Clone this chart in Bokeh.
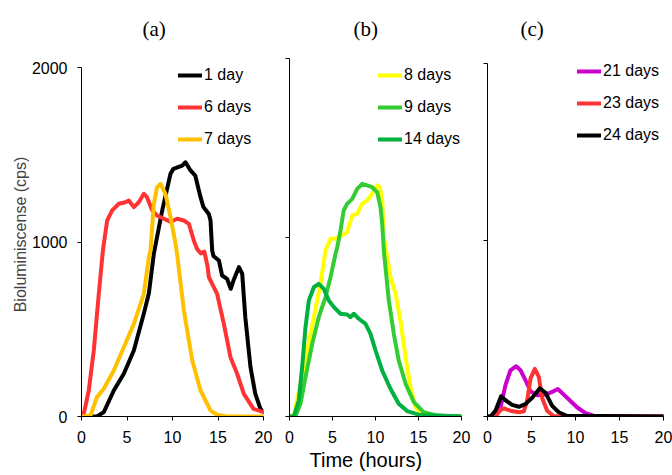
from bokeh.plotting import figure
from bokeh.models import Range1d, FixedTicker, Legend, LegendItem, Title, CustomJSTickFormatter
from bokeh.layouts import row
from bokeh.embed import file_html
from bokeh.resources import INLINE

# ---------------- data ----------------
panel_titles = ["(a)", "(b)", "(c)"]
x_ticks = [0, 5, 10, 15, 20]
y_ticks = [0, 1000, 2000]

# panel (a)
a_labels = ["1 day", "6 days", "7 days"]
a_colors = ["#000000", "#FF3333", "#FFC000"]
d1_t = [0, 1.7, 2.45, 3.55, 4.65, 5.75, 6.85, 7.4, 7.95, 8.87, 9.78, 10.1, 11.07, 11.43, 11.98, 12.5,
        13.08, 13.4, 13.99, 14.18, 14.36, 14.5, 15.1, 15.45, 16.0, 16.4, 16.7, 17.3, 17.66, 18.0,
        18.57, 19.1, 19.67, 20]
d1_v = [0, 0, 25, 149, 245, 378, 590, 705, 933, 1181, 1391, 1419, 1438, 1457, 1410, 1381,
        1257, 1200, 1161, 1123, 951, 920, 894, 808, 789, 732, 779, 856, 818, 569,
        283, 130, 44, 25]
d6_t = [0, 0.25, 0.8, 1.35, 1.9, 2.35, 2.82, 3.37, 4.1, 4.83, 5.2, 5.75, 6.3, 6.85, 7.2, 7.77, 8.3,
        9.05, 9.8, 10.5, 11.25, 11.8, 12.34, 12.7, 13.1, 13.5, 13.85, 14.0, 14.9, 15.64, 16.37, 17.1,
        17.84, 18.9, 20]
d6_v = [0, 15, 149, 378, 703, 951, 1123, 1181, 1219, 1228, 1238, 1200, 1228, 1276, 1257, 1181, 1152,
        1133, 1115, 1133, 1123, 1104, 1009, 960, 935, 945, 860, 798, 703, 531, 340, 245,
        130, 44, 25]
d7_t = [0, 1.0, 1.7, 2.45, 3.55, 4.65, 5.75, 6.85, 7.4, 7.58, 7.95, 8.3, 8.68, 9.23, 9.78, 10.33,
        10.5, 11.25, 12.17, 13.08, 14.18, 14.9, 16, 20]
d7_v = [0, 6, 111, 159, 264, 397, 531, 703, 913, 951, 1219, 1314, 1333, 1276, 1142, 990,
        933, 607, 321, 149, 34, 10, 0, 0]

# panel (b)
b_labels = ["8 days", "9 days", "14 days"]
b_colors = ["#FFFF00", "#33CC33", "#00B040"]
d8_t = [0, 0.5, 1.28, 2.05, 2.83, 3.6, 4.19, 4.77, 5.35, 6.1, 6.7, 7.3, 7.87, 8.45, 9.03, 9.6,
        10.2, 10.5, 10.78, 10.97, 11.36, 11.74, 12.33, 12.9, 13.5, 14.07, 14.65, 15.6, 20]
d8_v = [0, 5, 183, 369, 555, 741, 927, 993, 993, 1011, 1030, 1123, 1132, 1188, 1207, 1244,
        1291, 1281, 1207, 1002, 890, 778, 686, 536, 331, 164, 52, 5, 0]
d9_t = [0, 0.7, 1.28, 1.86, 2.64, 3.4, 4.19, 4.77, 5.35, 5.55, 5.93, 6.3, 6.7, 7.3, 7.87, 8.45,
        9.03, 9.6, 10.2, 10.58, 10.78, 10.97, 11.16, 11.55, 12.13, 12.7, 13.5, 14.46, 15.6, 17.2, 20]
d9_v = [0, 2, 71, 220, 406, 555, 667, 778, 909, 946, 1039, 1151, 1188, 1216, 1272, 1300,
        1291, 1281, 1253, 1170, 1077, 927, 834, 648, 462, 313, 183, 80, 24, 5, 0]
d14_t = [0, 0.5, 1.08, 1.47, 1.86, 2.25, 2.83, 3.4, 3.99, 4.57, 5.16, 5.93, 6.7, 7.1, 7.48, 8.06,
         8.84, 9.42, 10.0, 10.78, 11.74, 12.7, 13.7, 15.2, 20]
d14_v = [0, 0, 89, 275, 499, 648, 722, 741, 713, 648, 611, 574, 570, 555, 574, 546,
         518, 462, 369, 257, 155, 71, 30, 8, 0]

# panel (c)
c_labels = ["21 days", "23 days", "24 days"]
c_colors = ["#CC00CC", "#FF3333", "#000000"]
d21_t = [0, 0.9, 1.48, 2.05, 2.61, 3.26, 3.75, 4.3, 4.89, 5.65, 6.6, 7.35, 7.99, 8.67, 9.43, 10.2,
         11.1, 12.1, 20]
d21_v = [0, 0, 51, 179, 262, 285, 262, 207, 143, 121, 124, 139, 156, 124, 88, 51,
         20, 3, 0]
d23_t = [0, 0.9, 1.48, 1.86, 2.61, 3.56, 4.13, 4.5, 4.89, 5.38, 5.83, 6.2, 6.78, 7.5, 20]
d23_v = [0, 0, 37, 46, 33, 24, 29, 88, 216, 270, 225, 106, 33, 3, 0]
d24_t = [0, 0.34, 0.9, 1.55, 2.05, 2.8, 3.56, 4.3, 5.08, 5.95, 6.6, 7.35, 8.1, 9.0, 20]
d24_v = [0, 0, 33, 115, 92, 66, 55, 70, 106, 160, 134, 60, 24, 4, 0]

y_axis_label = "Bioluminiscense (cps)"
x_axis_label = "Time (hours)"

FONT = "Liberation Sans"
SERIF = "Liberation Serif"
H = 475
FRAME_TOP = 52
FRAME_BOTTOM = 416


def make_fig(width, bl, br, top_of_2000, show_ylabels):
    # each panel of the original has its own vertical scale: place 2000 at `top_of_2000` px
    y_end = y_ticks[-1] * (FRAME_BOTTOM - FRAME_TOP) / (FRAME_BOTTOM - top_of_2000)
    p = figure(width=width, height=H, x_range=Range1d(0, 20), y_range=Range1d(0, y_end),
               output_backend="svg", toolbar_location=None,
               min_border_left=bl, min_border_right=br, min_border_top=FRAME_TOP,
               min_border_bottom=H - FRAME_BOTTOM)
    p.xgrid.visible = False
    p.ygrid.visible = False
    p.outline_line_color = None
    p.background_fill_color = "white"
    for ax in (p.xaxis[0], p.yaxis[0]):
        ax.axis_line_color = "black"
        ax.axis_line_width = 1
        ax.major_tick_line_color = "black"
        ax.major_tick_in = 0
        ax.major_tick_out = 4
        ax.minor_tick_line_color = None
        ax.major_label_text_font = FONT
        ax.major_label_text_font_size = "16px"
        ax.major_label_text_color = "black"
    p.xaxis.ticker = FixedTicker(ticks=x_ticks)
    p.yaxis.ticker = FixedTicker(ticks=y_ticks)
    p.yaxis.bounds = (y_ticks[0], y_ticks[-1])
    p.xaxis.major_label_standoff = 10
    if show_ylabels:
        p.yaxis.major_label_standoff = 10
        p.yaxis.axis_label = y_axis_label
        p.yaxis.axis_label_text_font = FONT
        p.yaxis.axis_label_text_font_size = "16px"
        p.yaxis.axis_label_text_font_style = "normal"
        p.yaxis.axis_label_standoff = 0
    else:
        p.yaxis.formatter = CustomJSTickFormatter(code="return '';")
        p.yaxis.major_label_text_font_size = "0px"
        p.yaxis.major_label_standoff = 0
    return p


def add_series(p, series, labels, colors, loc):
    items = []
    for (t, v), lab, col in zip(series, labels, colors):
        r = p.line(t, v, line_color=col, line_width=4, line_join="round", line_cap="round")
        items.append(LegendItem(label=lab, renderers=[r]))
    lg = Legend(items=items, location=loc, orientation="vertical", padding=0, margin=0,
                spacing=12, glyph_width=24, glyph_height=20, label_height=20, label_standoff=2,
                label_text_font=FONT, label_text_font_size="16px", label_text_color="black",
                border_line_color=None, background_fill_alpha=0)
    p.add_layout(lg)


def add_title(p, text, offset, gap):
    # thin spacer panel next to the frame, then the panel title above it
    p.add_layout(Title(text=" ", text_font_size="1px", standoff=gap), "above")
    p.add_layout(Title(text=text, align="left", offset=offset, standoff=0,
                       text_font=SERIF, text_font_size="21px", text_font_style="normal",
                       text_color="black"), "above")


pa = make_fig(276, 81, 13, 67, True)
add_series(pa, [(d1_t, d1_v), (d6_t, d6_v), (d7_t, d7_v)], a_labels, a_colors, (97, 267))
add_title(pa, panel_titles[0], 61, 9)

pb = make_fig(200, 13, 15, 58, False)
add_series(pb, [(d8_t, d8_v), (d9_t, d9_v), (d14_t, d14_v)], b_labels, b_colors, (89, 267))
add_title(pb, panel_titles[1], 64, 9)
pb.add_layout(Title(text=x_axis_label, align="left", offset=20, standoff=2,
                    text_font=FONT, text_font_size="20px", text_font_style="normal",
                    text_color="black"), "below")

pc = make_fig(196, 11, 9, 63, False)
add_series(pc, [(d21_t, d21_v), (d23_t, d23_v), (d24_t, d24_v)], c_labels, c_colors, (90, 271))
add_title(pc, panel_titles[2], 33, 9)

layout = row(pa, pb, pc)
open("out.html", "w").write(file_html(layout, INLINE))
